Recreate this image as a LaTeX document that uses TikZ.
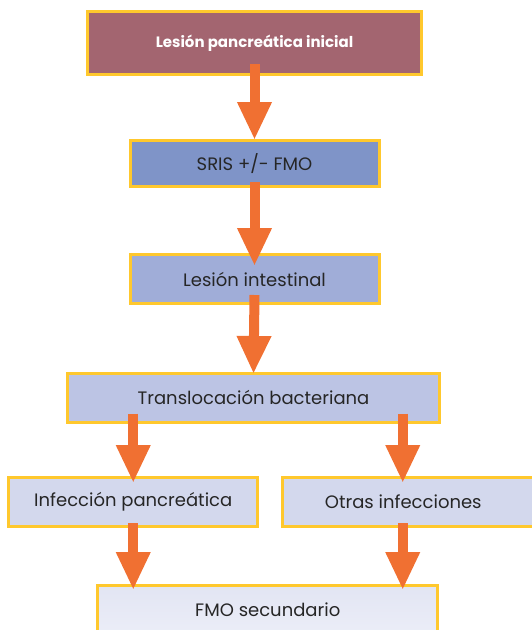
\documentclass[tikz,border=0pt]{standalone}
\usepackage{fontspec}
\setmainfont{Poppins}
\usepackage{xcolor}
\usetikzlibrary{arrows.meta, positioning}

\definecolor{frameyellow}{RGB}{255,200,45}
\definecolor{arroworange}{RGB}{240,112,50}
\definecolor{maroonbox}{RGB}{163,101,112}
\definecolor{blueA}{RGB}{127,148,200}
\definecolor{blueB}{RGB}{160,173,216}
\definecolor{blueC}{RGB}{188,196,228}
\definecolor{blueD}{RGB}{211,216,237}
\definecolor{blueE}{RGB}{226,229,243}
\definecolor{blueF}{RGB}{236,238,248}
\definecolor{textgray}{RGB}{38,38,38}

\begin{document}
\begin{tikzpicture}[
    x=1pt, y=1pt,
    box/.style={rectangle, draw=frameyellow, line width=3pt, inner sep=0pt, font=\fontsize{18}{20}\selectfont, text=textgray, align=center},
    arrow/.style={-{Triangle[width=32pt, length=38pt]}, line width=10pt, arroworange}
]
\useasboundingbox (0,0) rectangle (531,-630);

% Main chain
\node[box, fill=maroonbox, minimum width=334pt, minimum height=63pt, text=white, font=\fontsize{15}{17}\selectfont\bfseries] (inicial) at (254.5,-43) {Lesión pancreática inicial};
\node[box, fill=blueA, minimum width=249pt, minimum height=46pt, below=63pt of inicial] (sris) {SRIS +/- FMO};
\node[box, fill=blueB, minimum width=249pt, minimum height=49pt, below=65pt of sris] (intestinal) {Lesión intestinal};
\node[box, fill=blueC, minimum width=372.5pt, minimum height=48.5pt, below=67pt of intestinal, xshift=-1pt] (transloc) {Translocación bacteriana};

% Two branches
\node[box, fill=blueD, minimum width=249pt, minimum height=49pt, below=52.5pt of transloc.south west, anchor=north west, xshift=-58.5pt] (infpanc) {Infección pancreática};
\node[box, fill=blueD, minimum width=263pt, minimum height=49pt, right=22pt of infpanc] (otras) {\hspace*{-22pt}Otras infecciones};
\coordinate (rcol) at ([xshift=121.5pt]otras.north west);

% Outcome
\node[box, top color=blueE, bottom color=blueF, minimum width=340pt, minimum height=52pt, below=56pt of infpanc.south west, anchor=north west, xshift=89pt] (fmosec) {\raisebox{3pt}{FMO secundario}};

% Arrows
\draw[arrow] ([yshift=12pt]inicial.south) -- ([yshift=-1pt]sris.north);
\draw[arrow] ([yshift=6pt]sris.south) -- ([yshift=-13pt]intestinal.north);
\draw[arrow] ([yshift=10pt]intestinal.south) -- ([yshift=-2pt]transloc.north);
\draw[arrow] ([yshift=10pt]transloc.south -| infpanc.north) -- ([yshift=-7pt]infpanc.north);
\draw[arrow] ([yshift=10pt]transloc.south -| rcol) -- ([yshift=-7pt]otras.north -| rcol);
\draw[arrow] ([yshift=5pt]infpanc.south) -- ([yshift=-6pt]fmosec.north -| infpanc.south);
\draw[arrow] ([yshift=5pt]otras.south -| rcol) -- ([yshift=-6pt]fmosec.north -| rcol);

\end{tikzpicture}
\end{document}
